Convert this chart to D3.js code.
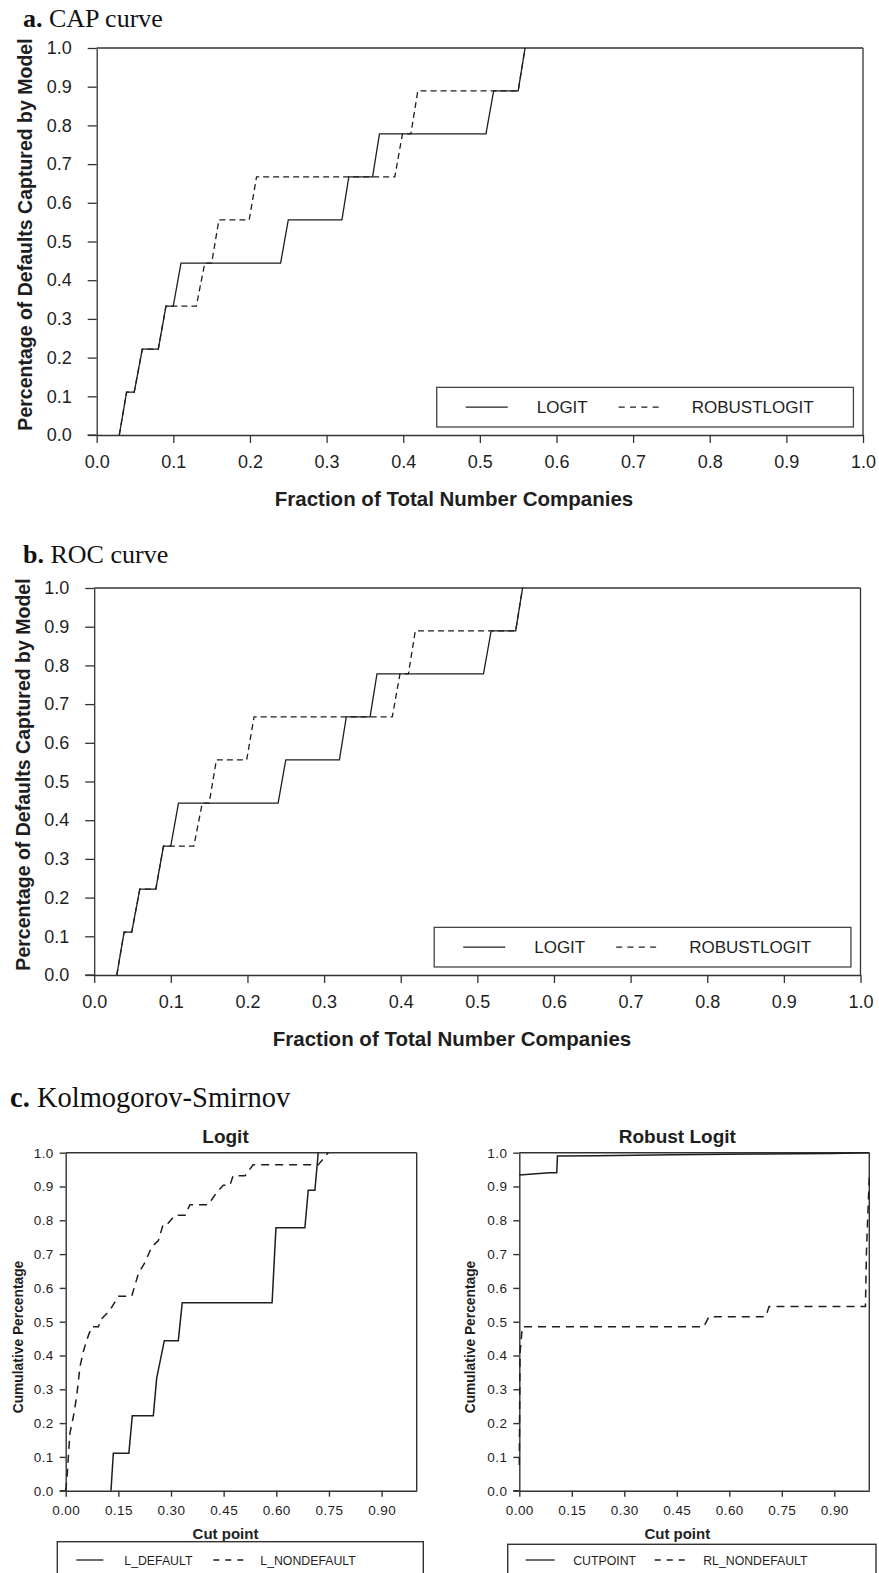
<!DOCTYPE html>
<html>
<head>
<meta charset="utf-8">
<script src="https://cdn.jsdelivr.net/npm/d3@7"></script>
<style>
  html, body { margin: 0; padding: 0; background: #fff; }
  svg { display: block; }
</style>
</head>
<body>
<svg id="chart" width="879" height="1573"></svg>
<script>
// ---------- DATA ----------
const capTicks = [0.0, 0.1, 0.2, 0.3, 0.4, 0.5, 0.6, 0.7, 0.8, 0.9, 1.0];
const ksXTicks = [0.00, 0.15, 0.30, 0.45, 0.60, 0.75, 0.90];
const ksYTicks = [0.0, 0.1, 0.2, 0.3, 0.4, 0.5, 0.6, 0.7, 0.8, 0.9, 1.0];

// CAP / ROC: LOGIT (solid)
const logitX = [0.0295, 0.039, 0.049, 0.0595, 0.0804, 0.0904, 0.0999, 0.110, 0.240, 0.250, 0.320, 0.329, 0.360, 0.369, 0.508, 0.518, 0.550, 0.559];
const logitY = [0, 0.111, 0.111, 0.222, 0.222, 0.333, 0.333, 0.444, 0.444, 0.556, 0.556, 0.667, 0.667, 0.778, 0.778, 0.889, 0.889, 1.0];
// CAP / ROC: ROBUSTLOGIT (dashed)
const robustX = [0.0295, 0.039, 0.049, 0.0595, 0.0804, 0.0904, 0.130, 0.141, 0.150, 0.1595, 0.199, 0.2086, 0.389, 0.399, 0.410, 0.419, 0.550, 0.559];
const robustY = [0, 0.111, 0.111, 0.222, 0.222, 0.333, 0.333, 0.444, 0.444, 0.556, 0.556, 0.667, 0.667, 0.778, 0.778, 0.889, 0.889, 1.0];

// KS Logit
const ksDefaultX = [0.129, 0.1357, 0.180, 0.1897, 0.2496, 0.2592, 0.281, 0.3208, 0.332, 0.588, 0.599, 0.6815, 0.691, 0.710, 0.7195];
const ksDefaultY = [0, 0.111, 0.111, 0.222, 0.222, 0.333, 0.444, 0.444, 0.556, 0.556, 0.778, 0.778, 0.889, 0.889, 1.0];
const ksNonDefaultX = [0.0, 0.004, 0.0075, 0.012, 0.0217, 0.031, 0.0407, 0.050, 0.060, 0.074, 0.093, 0.1025, 0.126, 0.150, 0.188, 0.207, 0.226, 0.245, 0.264, 0.278, 0.290, 0.3115, 0.340, 0.354, 0.406, 0.430, 0.449, 0.468, 0.477, 0.511, 0.534, 0.7195, 0.748];
const ksNonDefaultY = [0.0, 0.04, 0.10, 0.17, 0.218, 0.277, 0.367, 0.411, 0.446, 0.485, 0.485, 0.509, 0.534, 0.575, 0.575, 0.642, 0.676, 0.721, 0.740, 0.789, 0.789, 0.815, 0.815, 0.846, 0.846, 0.882, 0.904, 0.904, 0.932, 0.932, 0.964, 0.964, 1.0];

// KS Robust Logit
const rlCutX = [0, 0.086, 0.107, 0.109, 0.222, 0.441, 0.671, 0.890, 1.0];
const rlCutY = [0.934, 0.941, 0.941, 0.990, 0.991, 0.994, 0.996, 0.998, 1.0];
const rlNonX = [0, 0.002, 0.0086, 0.527, 0.542, 0.704, 0.7137, 0.989, 0.992, 1.0];
const rlNonY = [0.076, 0.406, 0.485, 0.485, 0.515, 0.515, 0.545, 0.545, 0.712, 0.929];

// ---------- DRAWING ----------
const svg = d3.select("#chart");
const SANS = "'Liberation Sans', Arial, Helvetica, sans-serif";
const SERIF = "'Liberation Serif', 'Times New Roman', serif";
const INK = "#1e1e1e";

function zip(xs, ys) { return xs.map((x, i) => [x, ys[i]]); }

function capPanel(cfg) {
  const g = svg.append("g");
  const x = d3.scaleLinear().domain([0, 1]).range([cfg.left, cfg.right]);
  const y = d3.scaleLinear().domain([0, 1]).range([cfg.bottom, cfg.top]);

  // title
  const t = g.append("text").attr("x", cfg.titleX).attr("y", cfg.titleY)
    .attr("font-family", SERIF).attr("font-size", 26).attr("fill", "#111");
  t.append("tspan").attr("font-weight", "bold").text(cfg.letter + " ");
  t.append("tspan").text(cfg.title);

  // axes
  const xAxis = d3.axisBottom(x).tickValues(capTicks).tickFormat(d3.format(".1f")).tickSize(8).tickSizeOuter(0).tickPadding(12);
  const yAxis = d3.axisLeft(y).tickValues(capTicks).tickFormat(d3.format(".1f")).tickSize(9).tickSizeOuter(0).tickPadding(16);
  const gx = g.append("g").attr("transform", `translate(0,${cfg.bottom})`).call(xAxis);
  const gy = g.append("g").attr("transform", `translate(${cfg.left},0)`).call(yAxis);
  [gx, gy].forEach(a => {
    a.select(".domain").attr("stroke", "#333").attr("stroke-width", 1.3);
    a.selectAll(".tick line").attr("stroke", "#333").attr("stroke-width", 1.3);
    a.selectAll(".tick text").attr("font-family", SANS).attr("font-size", 18).attr("fill", INK);
  });
  // frame top and right
  g.append("line").attr("x1", cfg.left).attr("x2", cfg.right).attr("y1", cfg.top).attr("y2", cfg.top)
    .attr("stroke", "#333").attr("stroke-width", 1.3);
  g.append("line").attr("x1", cfg.right).attr("x2", cfg.right).attr("y1", cfg.top).attr("y2", cfg.bottom)
    .attr("stroke", "#333").attr("stroke-width", 1.3);
  g.append("line").attr("x1", cfg.left - 9).attr("x2", cfg.left).attr("y1", cfg.bottom).attr("y2", cfg.bottom)
    .attr("stroke", "#333").attr("stroke-width", 1.3);

  // axis labels
  g.append("text").attr("x", cfg.xLabelX).attr("y", cfg.bottom + 71)
    .attr("text-anchor", "middle").attr("font-family", SANS).attr("font-weight", "bold")
    .attr("font-size", 20.5).attr("fill", INK).text("Fraction of Total Number Companies");
  g.append("text").attr("transform", `translate(${cfg.yLabelX},${(cfg.top + cfg.bottom) / 2 - 7}) rotate(-90)`)
    .attr("dy", "0.35em").attr("text-anchor", "middle").attr("font-family", SANS).attr("font-weight", "bold")
    .attr("font-size", 19.5).attr("fill", INK).text("Percentage of Defaults Captured by Model");

  const line = d3.line().x(d => x(d[0])).y(d => y(d[1]));
  g.append("path").datum(zip(robustX, robustY)).attr("d", line).attr("fill", "none")
    .attr("stroke", INK).attr("stroke-width", 1.3).attr("stroke-dasharray", "6,4");
  g.append("path").datum(zip(logitX, logitY)).attr("d", line).attr("fill", "none")
    .attr("stroke", INK).attr("stroke-width", 1.3);

  // legend
  const lg = g.append("g");
  const lx0 = x(0.4437), lx1 = x(0.9875);
  const ly0 = y(0.1231), ly1 = y(0.0207);
  lg.append("rect").attr("x", lx0).attr("y", ly0).attr("width", lx1 - lx0).attr("height", ly1 - ly0)
    .attr("fill", "#fff").attr("stroke", "#444").attr("stroke-width", 1.3);
  const lyMid = (ly0 + ly1) / 2;
  lg.append("line").attr("x1", lx0 + 29).attr("x2", lx0 + 71).attr("y1", lyMid).attr("y2", lyMid)
    .attr("stroke", INK).attr("stroke-width", 1.3);
  lg.append("text").attr("x", lx0 + 100).attr("y", lyMid + 6).attr("font-family", SANS)
    .attr("font-size", 17).attr("fill", INK).text("LOGIT");
  lg.append("line").attr("x1", lx0 + 182).attr("x2", lx0 + 222).attr("y1", lyMid).attr("y2", lyMid)
    .attr("stroke", INK).attr("stroke-width", 1.3).attr("stroke-dasharray", "6,5.3");
  lg.append("text").attr("x", lx0 + 255).attr("y", lyMid + 6).attr("font-family", SANS)
    .attr("font-size", 17).attr("fill", INK).text("ROBUSTLOGIT");
}

capPanel({ left: 96.7, right: 863, top: 48, bottom: 435, letter: "a.", title: "CAP curve",
  titleX: 23, titleY: 27, xLabelX: 454, yLabelX: 25 });
capPanel({ left: 94.2, right: 860.5, top: 588, bottom: 975, letter: "b.", title: "ROC curve",
  titleX: 23, titleY: 563, xLabelX: 452, yLabelX: 23 });

// ---------- Panel c ----------
svg.append("text").attr("x", 10).attr("y", 1107).attr("font-family", SERIF).attr("font-size", 28.5).attr("fill", "#111")
  .call(t => { t.append("tspan").attr("font-weight", "bold").text("c. "); t.append("tspan").text("Kolmogorov-Smirnov"); });

function ksPanel(cfg) {
  const g = svg.append("g");
  const x = d3.scaleLinear().domain([0, 1]).range([cfg.left, cfg.right]);
  const y = d3.scaleLinear().domain([0, 1]).range([cfg.bottom, cfg.top]);
  const xAxis = d3.axisBottom(x).tickValues(ksXTicks).tickFormat(d3.format(".2f")).tickSize(6).tickSizeOuter(0).tickPadding(9);
  const yAxis = d3.axisLeft(y).tickValues(ksYTicks).tickFormat(d3.format(".1f")).tickSize(6).tickSizeOuter(0).tickPadding(6);
  const gx = g.append("g").attr("transform", `translate(0,${cfg.bottom})`).call(xAxis);
  const gy = g.append("g").attr("transform", `translate(${cfg.left},0)`).call(yAxis);
  [gx, gy].forEach(a => {
    a.select(".domain").attr("stroke", "#333").attr("stroke-width", 1.4);
    a.selectAll(".tick line").attr("stroke", "#333").attr("stroke-width", 1.4);
    a.selectAll(".tick text").attr("font-family", SANS).attr("font-size", 13.5).attr("letter-spacing", "0.4px").attr("fill", INK);
  });
  g.append("line").attr("x1", cfg.left).attr("x2", cfg.right).attr("y1", cfg.top).attr("y2", cfg.top)
    .attr("stroke", "#333").attr("stroke-width", 1.4);
  g.append("line").attr("x1", cfg.right).attr("x2", cfg.right).attr("y1", cfg.top).attr("y2", cfg.bottom)
    .attr("stroke", "#333").attr("stroke-width", 1.4);
  g.append("line").attr("x1", cfg.left - 6).attr("x2", cfg.left).attr("y1", cfg.bottom).attr("y2", cfg.bottom)
    .attr("stroke", "#333").attr("stroke-width", 1.4);

  g.append("text").attr("x", cfg.labelCX).attr("y", 1143).attr("text-anchor", "middle")
    .attr("font-family", SANS).attr("font-weight", "bold").attr("font-size", 19).attr("fill", INK).text(cfg.title);
  g.append("text").attr("x", cfg.labelCX).attr("y", 1539).attr("text-anchor", "middle")
    .attr("font-family", SANS).attr("font-weight", "bold").attr("font-size", 15).attr("fill", INK).text("Cut point");
  g.append("text").attr("transform", `translate(${cfg.yLabelX},1337) rotate(-90)`).attr("dy", "0.35em")
    .attr("text-anchor", "middle").attr("font-family", SANS).attr("font-weight", "bold")
    .attr("font-size", 13.8).attr("fill", INK).text("Cumulative Percentage");

  const line = d3.line().x(d => x(d[0])).y(d => y(d[1]));
  g.append("path").datum(zip(cfg.dashX, cfg.dashY)).attr("d", line).attr("fill", "none")
    .attr("stroke", INK).attr("stroke-width", 1.5).attr("stroke-dasharray", "8,6");
  g.append("path").datum(zip(cfg.solidX, cfg.solidY)).attr("d", line).attr("fill", "none")
    .attr("stroke", INK).attr("stroke-width", 1.5);

  // legend
  const lg = g.append("g");
  lg.append("rect").attr("x", cfg.legX0).attr("y", cfg.legY0).attr("width", cfg.legX1 - cfg.legX0).attr("height", 60)
    .attr("fill", "#fff").attr("stroke", "#333").attr("stroke-width", 1.4);
  lg.append("line").attr("x1", cfg.legX0 + cfg.s1[0]).attr("x2", cfg.legX0 + cfg.s1[1]).attr("y1", 1560).attr("y2", 1560)
    .attr("stroke", INK).attr("stroke-width", 1.3);
  lg.append("text").attr("x", cfg.legX0 + cfg.t1).attr("y", 1564.5).attr("font-family", SANS)
    .attr("font-size", 12.3).attr("fill", INK).text(cfg.name1);
  lg.append("line").attr("x1", cfg.legX0 + cfg.s2[0]).attr("x2", cfg.legX0 + cfg.s2[1]).attr("y1", 1560).attr("y2", 1560)
    .attr("stroke", INK).attr("stroke-width", 1.3).attr("stroke-dasharray", "6,6");
  lg.append("text").attr("x", cfg.legX0 + cfg.t2).attr("y", 1564.5).attr("font-family", SANS)
    .attr("font-size", 12.3).attr("fill", INK).text(cfg.name2);
}

ksPanel({ left: 65.7, right: 416.7, top: 1152.7, bottom: 1490.7, title: "Logit", labelCX: 225.5, yLabelX: 18.5,
  solidX: ksDefaultX, solidY: ksDefaultY, dashX: ksNonDefaultX, dashY: ksNonDefaultY,
  legX0: 57.3, legX1: 423.3, legY0: 1541.7, s1: [19, 46], t1: 67, name1: "L_DEFAULT", s2: [156, 186], t2: 203, name2: "L_NONDEFAULT" });
ksPanel({ left: 519.3, right: 869.3, top: 1152.7, bottom: 1490.7, title: "Robust Logit", labelCX: 677.3, yLabelX: 470,
  solidX: rlCutX, solidY: rlCutY, dashX: rlNonX, dashY: rlNonY,
  legX0: 507.7, legX1: 876, legY0: 1544.3, s1: [18, 47], t1: 65.5, name1: "CUTPOINT", s2: [147, 177], t2: 195.5, name2: "RL_NONDEFAULT" });
</script>
</body>
</html>
